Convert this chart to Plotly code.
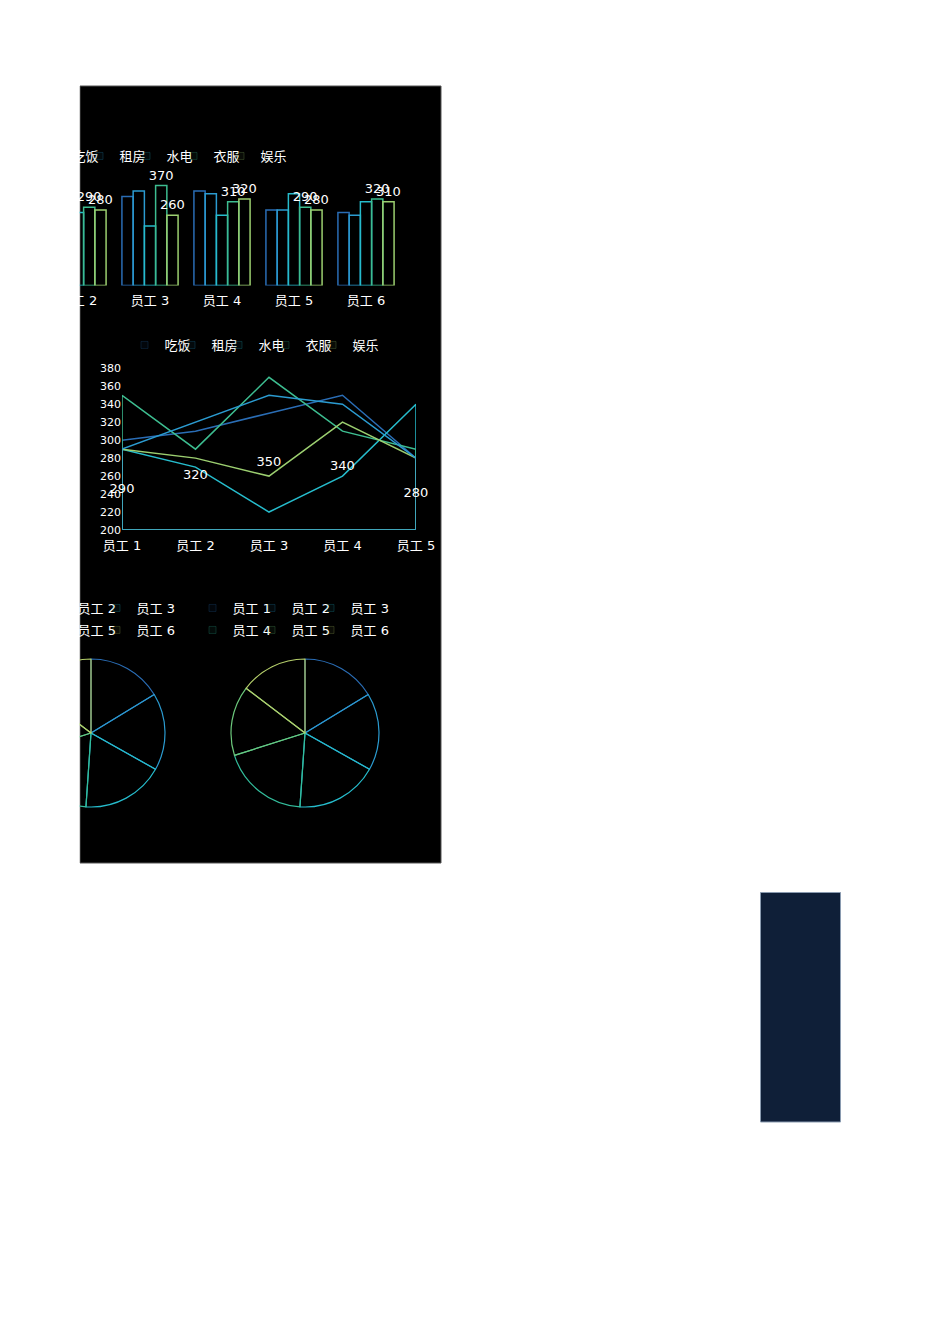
import plotly.graph_objects as go

# the page body has an 8px margin, so the figure is sized to fit inside it
OFF = 8
FW, FH = 930, 1320
FONT = "DejaVu Sans, Noto Sans CJK SC, sans-serif"
PANEL_LEFT = 80  # the dark panel is cut off at this page x

# data
employees = ["员工 1", "员工 2", "员工 3", "员工 4", "员工 5", "员工 6"]
items = ["吃饭", "租房", "水电", "衣服", "娱乐"]
eat = [300, 310, 330, 350, 280, 270]
rent = [290, 320, 350, 340, 280, 260]
utility = [290, 270, 220, 260, 340, 310]
clothes = [350, 290, 370, 310, 290, 320]
fun = [290, 280, 260, 320, 280, 310]
bar_labelled = ["衣服", "娱乐"]
line_employees = employees[:5]
line_labelled = "租房"
pie_values = eat

series = dict(zip(items, [eat, rent, utility, clothes, fun]))

# styles
series_colors = dict(zip(items, ["#2a6db5", "#2b9bd0", "#26bccc", "#3dbd90", "#9ccf70"]))
pie_colors = ["#2a6db5", "#2b9bd0", "#26bccc", "#33bd9c", "#6cc87c", "#b5cf6b"]


def px_x(p):
    # page pixel -> paper fraction
    return (p - OFF) / FW


def px_y(p):
    return 1 - (p - OFF) / FH


def faint(hexcol, a):
    h = hexcol.lstrip("#")
    r, g, b = int(h[0:2], 16), int(h[2:4], 16), int(h[4:6], 16)
    return "rgba(%d,%d,%d,%s)" % (r, g, b, a)


fig = go.Figure()

# grouped bars (outline only)
for name in items:
    vals = series[name]
    fig.add_trace(go.Bar(
        x=employees, y=vals, name=name,
        marker=dict(color="rgba(0,0,0,0)", line=dict(color=series_colors[name], width=1.5)),
        text=vals if name in bar_labelled else None,
        textposition="outside", constraintext="none", cliponaxis=False,
        textfont=dict(color="white", size=13, family=FONT),
        showlegend=False, hoverinfo="skip", xaxis="x", yaxis="y"))

# line chart, every series closed down to the axis floor
ymin, ymax = 200, 380
for name in ["吃饭", "水电", "衣服", "娱乐", "租房"]:
    vals = series[name][:5]
    xs = line_employees + [line_employees[-1], line_employees[0], line_employees[0]]
    ys = vals + [ymin, ymin, vals[0]]
    fig.add_trace(go.Scatter(
        x=xs, y=ys, mode="lines", line=dict(color=series_colors[name], width=1.5),
        cliponaxis=False, showlegend=False, hoverinfo="skip", xaxis="x2", yaxis="y2"))

lab = series[line_labelled][:5]
fig.add_trace(go.Scatter(
    x=line_employees, y=[(v + ymin) / 2 for v in lab], text=lab, mode="text",
    textfont=dict(color="white", size=13, family=FONT), cliponaxis=False,
    showlegend=False, hoverinfo="skip", xaxis="x2", yaxis="y2"))

# two pies
for cx in [91, 305]:
    fig.add_trace(go.Pie(
        labels=employees, values=pie_values, sort=False, direction="clockwise", rotation=0,
        marker=dict(colors=["rgba(0,0,0,0)"] * 6, line=dict(color=pie_colors, width=1.2)),
        textinfo="none", showlegend=False, hoverinfo="skip",
        domain=dict(x=[px_x(cx - 74), px_x(cx + 74)], y=[px_y(807), px_y(659)])))

# legends: one small legend per entry
legends = {}
n = [0]


def add_entry(name, color, text_x, y):
    n[0] += 1
    lid = "legend" if n[0] == 1 else "legend%d" % n[0]
    # symbols that fall outside the cut panel are not shown
    a = 1 if text_x - 20 > PANEL_LEFT else 0
    fig.add_trace(go.Scatter(
        x=[None], y=[None], mode="markers", name=name, legend=lid, hoverinfo="skip",
        marker=dict(symbol="square", size=7, color=faint(color, 0.06 * a),
                    line=dict(color=faint(color, 0.22 * a), width=1)),
        xaxis="x", yaxis="y"))
    legends[lid] = dict(x=px_x(text_x - 40.5), y=px_y(y), xanchor="left", yanchor="middle",
                        orientation="h", bgcolor="rgba(0,0,0,0)", borderwidth=0,
                        font=dict(color="white", size=13, family=FONT))


for i, name in enumerate(items):
    add_entry(name, series_colors[name], 73 + 47 * i, 156)
for i, name in enumerate(items):
    add_entry(name, series_colors[name], 165 + 47 * i, 345)
for left in [19, 233]:
    for i, name in enumerate(employees):
        add_entry(name, pie_colors[i], left + 59 * (i % 3), 608 if i < 3 else 630)

fig.update_layout(**legends)

fig.update_layout(
    width=FW, height=FH, template="none",
    margin=dict(l=0, r=0, t=0, b=0, autoexpand=False),
    paper_bgcolor="white", plot_bgcolor="rgba(0,0,0,0)",
    font=dict(family=FONT, color="white", size=13),
    barmode="group", bargap=0.22, bargroupgap=0,
    xaxis=dict(domain=[0, px_x(441)], type="category", categoryorder="array",
               categoryarray=employees, range=[(OFF - 6) / 72, 435 / 72],
               showgrid=False, zeroline=False, showline=False, ticks="",
               ticklabelstandoff=5,
               tickfont=dict(color="white", size=13), anchor="y", automargin=False),
    yaxis=dict(domain=[px_y(285.5), px_y(177.5)], range=[0, 400], visible=False,
               anchor="x", automargin=False),
    xaxis2=dict(domain=[px_x(122), px_x(416)], type="category", categoryorder="array",
                categoryarray=line_employees, range=[0, 4],
                showgrid=False, zeroline=False, showline=False, ticks="",
                ticklabelstandoff=6,
                tickfont=dict(color="white", size=13), anchor="y2", automargin=False),
    yaxis2=dict(domain=[px_y(530), px_y(368.3)], range=[ymin, ymax], dtick=20,
                showgrid=False, zeroline=False, showline=False, ticks="",
                tickfont=dict(color="white", size=11), anchor="x2", automargin=False),
    shapes=[
        dict(type="rect", xref="paper", yref="paper", layer="below",
             x0=px_x(PANEL_LEFT), x1=px_x(441), y0=px_y(863), y1=px_y(86),
             fillcolor="black", line=dict(color="#555555", width=1)),
        dict(type="rect", xref="paper", yref="paper", layer="below",
             x0=px_x(760.5), x1=px_x(840.5), y0=px_y(1122), y1=px_y(892.5),
             fillcolor="#0f1f38", line=dict(color="#8a9bb0", width=1)),
        dict(type="rect", xref="paper", yref="paper", layer="above",
             x0=-0.01, x1=px_x(PANEL_LEFT - 0.5), y0=px_y(870), y1=px_y(80),
             fillcolor="white", line=dict(width=0)),
    ],
)

fig.write_html("out.html")
